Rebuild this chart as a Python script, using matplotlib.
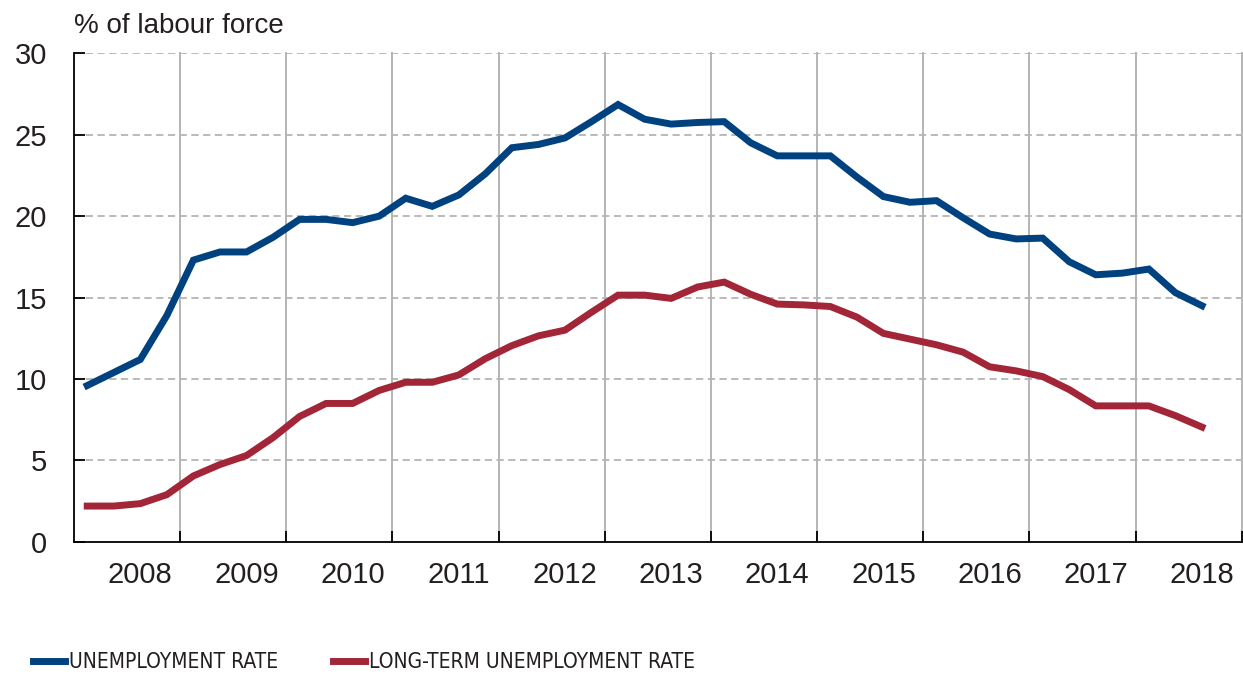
import matplotlib
matplotlib.use('Agg')
import matplotlib.pyplot as plt
from matplotlib import font_manager
import numpy as np

# Dados trimestrais (índice 0 = primeiro trimestre mostrado)
anos = ['2008', '2009', '2010', '2011', '2012', '2013', '2014', '2015', '2016', '2017', '2018']

desemprego = [9.6, 10.4, 11.2, 13.9, 17.3, 17.8, 17.8, 18.7, 19.8, 19.8,
              19.6, 20.0, 21.1, 20.6, 21.3, 22.6, 24.2, 24.4, 24.8, 25.8,
              26.85, 25.95, 25.65, 25.75, 25.8, 24.5, 23.7, 23.7, 23.7, 22.4,
              21.2, 20.85, 20.95, 19.9, 18.9, 18.6, 18.65, 17.2, 16.4, 16.5,
              16.75, 15.3, 14.5]

desemprego_longo = [2.2, 2.2, 2.35, 2.9, 4.05, 4.75, 5.3, 6.4, 7.7, 8.5,
                    8.5, 9.3, 9.8, 9.8, 10.25, 11.25, 12.05, 12.65, 13.0, 14.1,
                    15.15, 15.15, 14.95, 15.65, 15.95, 15.2, 14.6, 14.55, 14.45, 13.8,
                    12.8, 12.45, 12.1, 11.65, 10.75, 10.5, 10.15, 9.35, 8.35, 8.35,
                    8.35, 7.75, 7.05]

azul = '#00427f'
vermelho = '#a22638'
cinza = '#b4b4b4'
texto = '#231f20'

plt.rcParams['font.family'] = ['Liberation Sans', 'DejaVu Sans']

# Procurar uma fonte estreita para a legenda
fonte_legenda = {'family': ['Liberation Sans', 'DejaVu Sans'], 'size': 15}
candidatas = []
for f in font_manager.fontManager.ttflist:
    nome = f.name.lower()
    if f.style != 'normal' or f.weight not in (400, 'normal', 'regular'):
        continue
    if 'narrow' in nome or 'condensed' in nome or str(f.stretch) in ('condensed', 'semi-condensed', 'extra-condensed', 'ultra-condensed') \
            or (isinstance(f.stretch, int) and f.stretch < 500):
        candidatas.append(f)
if candidatas:
    candidatas.sort(key=lambda f: (0 if 'liberation' in f.name.lower() else 1))
    fonte_legenda = font_manager.FontProperties(fname=candidatas[0].fname, size=15)

fig = plt.figure(figsize=(12.43, 6.74), dpi=100)
ax = fig.add_axes([0.0595, 0.196, 0.9395, 0.725])

x = np.arange(len(desemprego))
ax.plot(x, desemprego, color=azul, linewidth=5, solid_joinstyle='miter', zorder=3,
        label='UNEMPLOYMENT RATE')
ax.plot(x, desemprego_longo, color=vermelho, linewidth=5, solid_joinstyle='miter', zorder=3,
        label='LONG-TERM UNEMPLOYMENT RATE')

# Eixos
ax.set_xlim(-0.5, len(desemprego) + 0.5)
ax.set_ylim(0, 30)

# Grade horizontal tracejada
for v in range(5, 31, 5):
    ax.axhline(v, color=cinza, linewidth=1.3, linestyle=(0, (4, 2.5)), zorder=1)

# Linhas verticais entre os anos
separadores = np.arange(3.5, len(desemprego) + 1, 4)
for s in separadores:
    ax.axvline(s, color=cinza, linewidth=1.4, zorder=1, clip_on=False)

ax.set_xticks(separadores)
ax.set_xticklabels([])
ax.set_xticks(np.arange(2, len(desemprego), 4), minor=True)
ax.set_xticklabels(anos, minor=True)
ax.tick_params(axis='x', which='major', direction='in', length=8, width=1.3, color='black')
ax.tick_params(axis='x', which='minor', length=0, pad=14, labelsize=21, labelcolor=texto)

ax.set_yticks(range(0, 31, 5))
ax.tick_params(axis='y', direction='in', length=8, width=1.3, color='black',
               pad=19.5, labelsize=21, labelcolor=texto)

for lado in ['top', 'right']:
    ax.spines[lado].set_visible(False)
ax.spines['left'].set_linewidth(1.3)
ax.spines['bottom'].set_linewidth(1.3)

fig.text(0.0595, 0.961, '% of labour force', fontsize=20, color=texto, ha='left', va='center')

leg = fig.legend(loc='center left', bbox_to_anchor=(0.0265, 0.018), ncol=2, frameon=False,
                 borderpad=0, borderaxespad=0,
                 handlelength=1.55, handletextpad=0.2, columnspacing=2.6,
                 prop=fonte_legenda, bbox_transform=fig.transFigure)
for t in leg.get_texts():
    t.set_color(texto)

fig.savefig('out.png', dpi=100, facecolor='white')
